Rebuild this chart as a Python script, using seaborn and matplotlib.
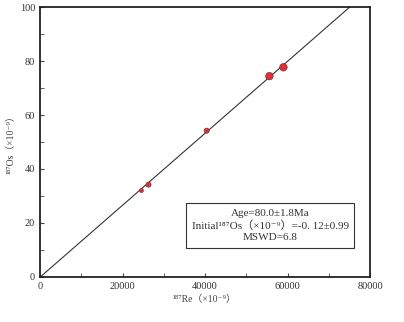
import numpy as np
import pandas as pd
import matplotlib
matplotlib.use("Agg")
import matplotlib.pyplot as plt
import seaborn as sns
from matplotlib.ticker import MultipleLocator

# Re-Os isochron data
re187 = [24600, 26300, 40400, 55600, 59000]
os187 = [32.0, 34.2, 54.2, 74.4, 77.7]
pt_size = [8, 14, 14, 30, 30]

age_ma = 80.0
initial_os = -0.12
lam = 1.666e-11

sns.set_style("ticks")
plt.rcParams['font.family'] = ['Liberation Serif', 'DejaVu Serif', 'Noto Sans CJK SC']

data = pd.DataFrame({"Re": re187, "Os": os187, "s": pt_size})

fig = plt.figure(figsize=(4.04, 3.22), dpi=100)
ax = fig.add_axes([0.099, 0.140, 0.817, 0.838])

# isochron line
slope = np.exp(lam * age_ma * 1e6) - 1
line_x = np.array([0, 80000])
line = pd.DataFrame({"Re": line_x, "Os": initial_os + slope * line_x})
sns.lineplot(data=line, x="Re", y="Os", color="#333333", lw=0.8, ax=ax)

sns.scatterplot(data=data, x="Re", y="Os", size="s", sizes=(8, 30),
                color="#d9303a", edgecolor="#7a2a2a", linewidth=0.4,
                legend=False, ax=ax, zorder=3)

ax.set_xlim(0, 80000)
ax.set_ylim(0, 100)
ax.xaxis.set_major_locator(MultipleLocator(20000))
ax.xaxis.set_minor_locator(MultipleLocator(10000))
ax.yaxis.set_major_locator(MultipleLocator(20))
ax.yaxis.set_minor_locator(MultipleLocator(10))
ax.tick_params(which="both", direction="in", labelsize=7.5, colors="#444444",
               labelcolor="#333333")
ax.tick_params(which="major", length=3)
ax.tick_params(which="minor", length=3)
for sp in ax.spines.values():
    sp.set_visible(True)
    sp.set_linewidth(1.3)
    sp.set_color("#222222")

ax.set_xlabel("¹⁸⁷Re（×10⁻⁹）", fontsize=7, color="#444444", labelpad=3)
ax.set_ylabel("¹⁸⁷Os（×10⁻⁹）", fontsize=7, color="#444444", labelpad=3)

txt = ("Age=80.0±1.8Ma\n"
       "Initial¹⁸⁷Os（×10⁻⁹）=-0. 12±0.99\n"
       "MSWD=6.8")
ax.text(0.697, 0.19, txt, transform=ax.transAxes, ha="center", va="center",
        fontsize=8, color="#333333", linespacing=1.3,
        bbox=dict(boxstyle="square,pad=0.5", fc="white", ec="#333333", lw=0.8))

fig.savefig("out.png", dpi=100, facecolor="white")
